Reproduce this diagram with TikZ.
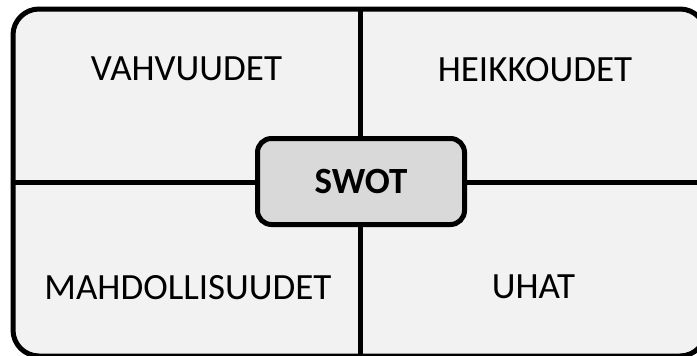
\documentclass[tikz,border=0pt]{standalone}
\usepackage{fontspec}
\setmainfont{Carlito}
\definecolor{panelfill}{HTML}{F2F2F2}
\definecolor{swotfill}{HTML}{D9D9D9}
\begin{document}
\begin{tikzpicture}[x=1pt,y=-1pt,
  outerbox/.style={draw=black, line width=5pt, fill=panelfill, rounded corners=26pt},
  divider/.style={draw=black, line width=5pt},
  centerbox/.style={draw=black, line width=5pt, fill=swotfill, rounded corners=14pt,
    minimum width=207pt, minimum height=86pt, inner sep=0pt,
    font=\fontsize{37}{44}\selectfont\bfseries},
  label/.style={inner sep=0pt, anchor=center, font=\fontsize{37}{44}\selectfont}
]
\useasboundingbox (0,0) rectangle (697,356);
\draw[outerbox] (13,9) rectangle (706,356);
\coordinate (vtop) at (360.5,9);
\coordinate (vbot) at (360.5,356);
\coordinate (hleft) at (13,182);
\coordinate (hright) at (706,182);
\draw[divider] (vtop) -- (vbot);
\draw[divider] (hleft) -- (hright);
\node[centerbox] (swot) at (361,181.5) {SWOT};
\node[label] (s) at (186.5,72) {\vphantom{Ay}VAHVUUDET};
\node[label] (w) at (535,72) {\vphantom{Ay}HEIKKOUDET};
\node[label] (o) at (188,290) {\vphantom{Ay}MAHDOLLISUUDET};
\node[label] (t) at (533.5,290) {\vphantom{Ay}UHAT};
\end{tikzpicture}
\end{document}
